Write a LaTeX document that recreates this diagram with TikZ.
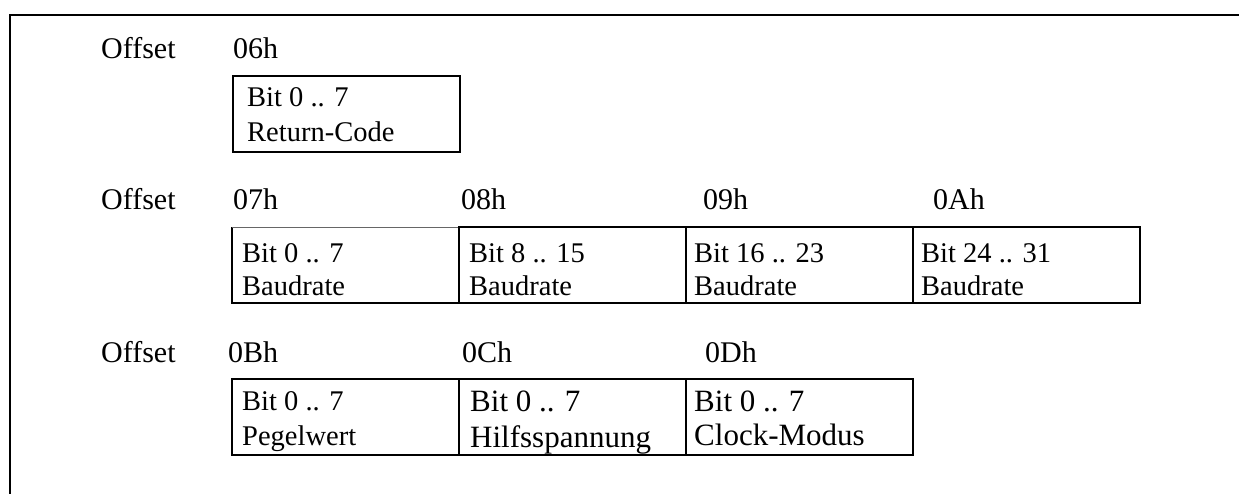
\documentclass[tikz,border=0pt]{standalone}
\usepackage{fontspec}
\setmainfont{Liberation Serif}
\usetikzlibrary{calc}
\begin{document}
\begin{tikzpicture}[x=1pt,y=-1pt,
  cell/.style={draw,line width=1.4pt,minimum width=227pt,minimum height=76pt,inner sep=0pt,outer sep=0pt,anchor=north west},
  lbl/.style={anchor=base west,inner sep=0pt,font=\fontsize{30}{36}\selectfont},
  txt/.style={anchor=base west,inner sep=0pt,font=\fontsize{28.5}{34}\selectfont},
  txtbig/.style={anchor=base west,inner sep=0pt,font=\fontsize{31}{36}\selectfont},
  frame/.style={line width=2pt}]
\useasboundingbox (0,0) rectangle (1239,494);
\fill[white] (0,0) rectangle (1239,494);
% outer frame
\coordinate (fr) at (1239,15.5);
\coordinate (fc) at (10,15.5);
\coordinate (fb) at (10,494);
\draw[frame] (fr) -- (fc) -- (fb);

% row 1
\node[lbl] (o1) at (101,59) {Offset};
\node[lbl] (h06) at (233,59) {06h};
\node[cell] (c06) at (233,76) {};
\node[txt] (c06a) at ($(c06.north west)+(14,31)$) {Bit 0 .. 7};
\node[txt] (c06b) at ($(c06.north west)+(14,66)$) {Return-Code};

% row 2
\node[lbl] (o2) at (101,210) {Offset};
\node[lbl] (h07) at (233,210) {07h};
\node[lbl] (h08) at (461,210) {08h};
\node[lbl] (h09) at (703,210) {09h};
\node[lbl] (h0A) at (933,210) {0Ah};
\node[cell,draw=none] (c07) at (232,227) {};
\draw[line width=1.4pt] (c07.north east) -- (c07.south east) -- (c07.south west) -- (c07.north west);
\draw[line width=0.6pt,black!60] (c07.north west) -- (c07.north east);
\node[cell] (c08) at (459,227) {};
\node[cell] (c09) at (686,227) {};
\node[cell] (c0A) at (913,227) {};
\node[txt] (c07a) at ($(c07.north west)+(10,36)$) {Bit 0 .. 7};
\node[txt] (c07b) at ($(c07.north west)+(10,68)$) {Baudrate};
\node[txt] (c08a) at ($(c08.north west)+(10,36)$) {Bit 8 .. 15};
\node[txt] (c08b) at ($(c08.north west)+(10,68)$) {Baudrate};
\node[txt] (c09a) at ($(c09.north west)+(8,36)$) {Bit 16 .. 23};
\node[txt] (c09b) at ($(c09.north west)+(8,68)$) {Baudrate};
\node[txt] (c0Aa) at ($(c0A.north west)+(8,36)$) {Bit 24 .. 31};
\node[txt] (c0Ab) at ($(c0A.north west)+(8,68)$) {Baudrate};

% row 3
\node[lbl] (o3) at (101,362) {Offset};
\node[lbl] (h0B) at (228,362) {0Bh};
\node[lbl] (h0C) at (462,362) {0Ch};
\node[lbl] (h0D) at (705,362) {0Dh};
\node[cell] (c0B) at (232,379) {};
\node[cell] (c0C) at (459,379) {};
\node[cell] (c0D) at (686,379) {};
\node[txt] (c0Ba) at ($(c0B.north west)+(10,31)$) {Bit 0 .. 7};
\node[txt] (c0Bb) at ($(c0B.north west)+(10,66)$) {Pegelwert};
\node[txtbig] (c0Ca) at ($(c0C.north west)+(11,32)$) {Bit 0 .. 7};
\node[txtbig] (c0Cb) at ($(c0C.north west)+(11,68)$) {Hilfsspannung};
\node[txtbig] (c0Da) at ($(c0D.north west)+(8,32)$) {Bit 0 .. 7};
\node[txtbig] (c0Db) at ($(c0D.north west)+(8,66)$) {Clock-Modus};
\end{tikzpicture}
\end{document}
